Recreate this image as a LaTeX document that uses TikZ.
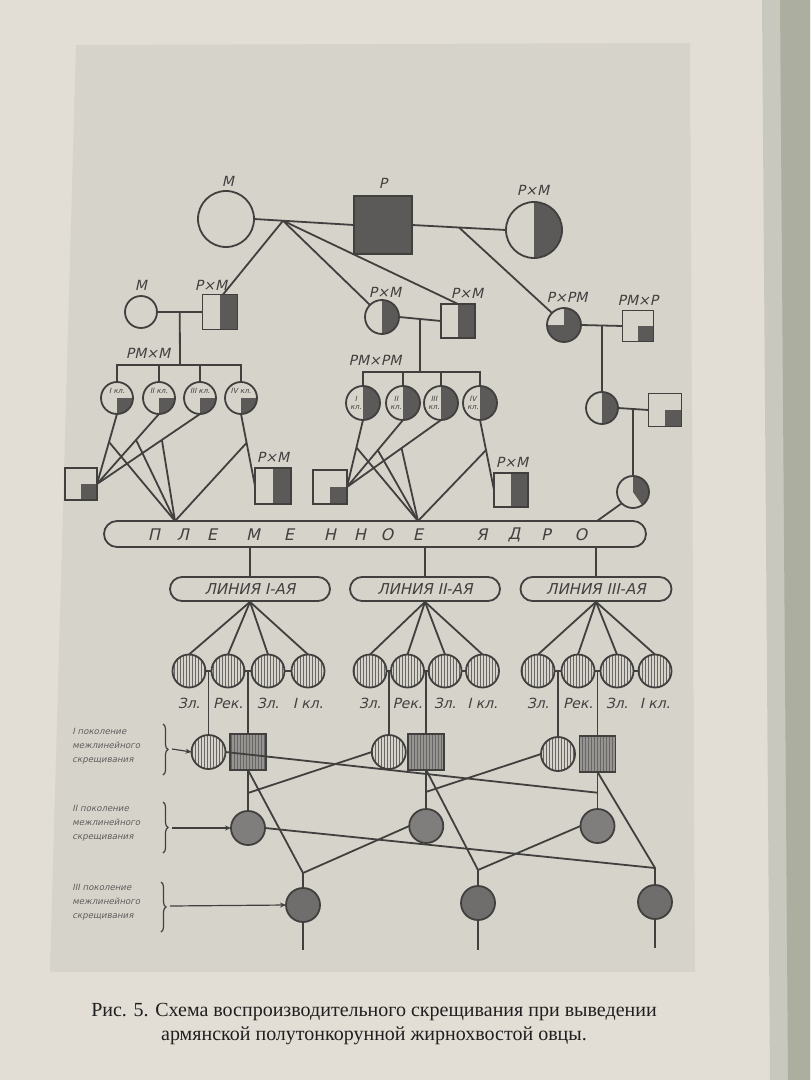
\documentclass[tikz,border=0pt]{standalone}
\usepackage{fontspec}
\setmainfont{Liberation Serif}
\newfontfamily\labf{DejaVu Sans}[FakeSlant=0.22]
\usetikzlibrary{patterns.meta,decorations.pathreplacing,arrows.meta,calc}
\definecolor{paper}{RGB}{226,222,213}
\definecolor{plate}{RGB}{214,211,203}
\definecolor{ink}{RGB}{66,64,62}
\definecolor{dark}{RGB}{92,90,89}
\definecolor{stripe}{RGB}{105,103,101}
\definecolor{gone}{RGB}{150,148,145}
\definecolor{gtwo}{RGB}{128,126,124}
\definecolor{gthree}{RGB}{112,110,108}
\definecolor{bindA}{RGB}{200,200,190}
\definecolor{bindB}{RGB}{172,175,160}
\tikzset{
  ln/.style={draw=ink,line width=0.9pt},
  circ/.style={circle,draw=ink,line width=0.9pt,fill=plate,minimum size=#1,inner sep=0pt,outer sep=0pt},
  sqr/.style={rectangle,draw=ink,line width=0.9pt,fill=plate,minimum size=#1,inner sep=0pt,outer sep=0pt},
  halfR/.style={path picture={\fill[dark] (path picture bounding box.north) rectangle (path picture bounding box.south east);}},
  quadBR/.style={path picture={\fill[dark] (path picture bounding box.center) rectangle (path picture bounding box.south east);}},
  threeQ/.style={path picture={\fill[dark] (path picture bounding box.south west) rectangle (path picture bounding box.north east);\fill[plate] (path picture bounding box.center) rectangle (path picture bounding box.north west);}},
  sectorfill/.style={path picture={\fill[dark] (path picture bounding box.center) -- ++(90:10pt) arc[start angle=90,end angle=-55,radius=10pt] -- cycle;}},
  stripes/.style={preaction={fill=#1},pattern={Lines[angle=90,distance=1.5pt,line width=0.5pt]},pattern color=stripe},
  lab/.style={font=\labf\fontsize{7}{8}\selectfont,text=ink,inner sep=0pt},
  nuc/.style={font=\labf\fontsize{8}{9}\selectfont,text=ink,inner sep=0pt},
  tinytext/.style={font=\labf\fontsize{3.6}{4}\selectfont,text=ink,inner sep=0pt,align=center},
  gentext/.style={font=\labf\fontsize{4.3}{7}\selectfont,text=ink!85,inner sep=0pt,align=left,anchor=west},
  linebox/.style={draw=ink,line width=0.9pt,rounded corners=6pt,minimum height=12pt,inner sep=0pt,font=\labf\fontsize{7.5}{8}\selectfont,text=ink},
  captext/.style={font=\fontsize{10}{12}\selectfont,text=black!88,inner sep=0pt},
  bracestyle/.style={draw=ink,line width=0.6pt,decorate,decoration={brace,amplitude=2.5pt}},
  arrstyle/.style={draw=ink,line width=0.6pt,-{Stealth[length=3pt,width=2.5pt]}}
}
\begin{document}
\begin{tikzpicture}[x=0.5pt,y=-0.5pt]
\useasboundingbox (0,0) rectangle (810,1080);
\fill[paper] (0,0) rectangle (810,1080);
\fill[plate] (76,45) -- (690,43) -- (695,972) -- (50,972) -- cycle;
\fill[bindA] (762,0) -- (810,0) -- (810,1080) -- (770,1080) -- cycle;
\fill[bindB] (780,0) -- (810,0) -- (810,1080) -- (788,1080) -- cycle;

% ---------- top row
\node[circ=28pt] (M0) at (226,219) {};
\node[sqr=29pt,fill=dark] (P0) at (383,225) {};
\node[circ=28pt,halfR] (PM0) at (534,230) {};
\node[lab] (lM0) at (228,181) {М};
\node[lab] (lP0) at (383,183) {Р};
\node[lab] (lPM0) at (533,190) {Р×М};
\draw[ln] (M0.east) -- coordinate[pos=0.29] (j1) (P0.west);
\draw[ln] (P0.east) -- coordinate[pos=0.5] (j2) (PM0.west);

% ---------- second row
\node[circ=16pt] (M1) at (141,312) {};
\node[sqr=17.5pt,halfR] (PM1) at (220,312) {};
\node[circ=17pt,halfR] (PM2) at (382,317) {};
\node[sqr=17pt,halfR] (PM3) at (458,321) {};
\node[circ=17pt,threeQ] (PPM) at (564,325) {};
\node[sqr=15.5pt,quadBR] (PMP) at (638,326) {};
\node[lab] (lM1) at (141,285) {М};
\node[lab] (lPM1) at (211,285) {Р×М};
\node[lab] (lPM2) at (385,292) {Р×М};
\node[lab] (lPM3) at (467,293) {Р×М};
\node[lab] (lPPM) at (567,297) {Р×РМ};
\node[lab] (lPMP) at (638,300) {РМ×Р};
\draw[ln] (M1.east) -- coordinate[pos=0.5] (j3) (PM1.west);
\draw[ln] (PM2.east) -- coordinate[pos=0.5] (j4) (PM3.west);
\draw[ln] (PPM.east) -- coordinate[pos=0.5] (j5) (PMP.west);
\draw[ln] (j1) -- ($(PM1.north)+(3,0)$);
\draw[ln] (j1) -- (PM2.north west);
\draw[ln] (j1) -- (PM3.north);
\draw[ln] (j2) -- (PPM.north west);

% ---------- left group
\node[lab] (lA) at (148,353) {РМ×М};
\node[circ=16pt,quadBR] (A1) at (117,398) {};
\node[circ=16pt,quadBR] (A2) at (159,398) {};
\node[circ=16pt,quadBR] (A3) at (200,398) {};
\node[circ=16pt,quadBR] (A4) at (241,398) {};
\node[tinytext] (tA1) at (117,391) {I кл.};
\node[tinytext] (tA2) at (159,391) {II кл.};
\node[tinytext] (tA3) at (200,391) {III кл.};
\node[tinytext] (tA4) at (241,391) {IV кл.};
\coordinate (b1) at (180,365);
\draw[ln] (j3) -- (b1);
\draw[ln] (A1.north) -- (A1.north |- b1) -- (A4.north |- b1) -- (A4.north);
\draw[ln] (A2.north) -- (A2.north |- b1);
\draw[ln] (A3.north) -- (A3.north |- b1);
\node[sqr=16pt,quadBR] (S1) at (81,484) {};
\node[sqr=18pt,halfR] (S2) at (273,486) {};
\node[lab] (lS2) at (273,457) {Р×М};

% ---------- middle group
\node[lab] (lB) at (375,360) {РМ×РМ};
\node[circ=17pt,halfR] (B1) at (363,403) {};
\node[circ=17pt,halfR] (B2) at (403,403) {};
\node[circ=17pt,halfR] (B3) at (441,403) {};
\node[circ=17pt,halfR] (B4) at (480,403) {};
\node[tinytext] (tB1) at (356,403) {I\\кл.};
\node[tinytext] (tB2) at (396,403) {II\\кл.};
\node[tinytext] (tB3) at (434,403) {III\\кл.};
\node[tinytext] (tB4) at (473,403) {IV\\кл.};
\coordinate (b2) at (420,372);
\draw[ln] (j4) -- (b2);
\draw[ln] (B1.north) -- (B1.north |- b2) -- (B4.north |- b2) -- (B4.north);
\draw[ln] (B2.north) -- (B2.north |- b2);
\draw[ln] (B3.north) -- (B3.north |- b2);
\node[sqr=17pt,quadBR] (S3) at (330,487) {};
\node[sqr=17pt,halfR] (S4) at (511,490) {};
\node[lab] (lS4) at (512,462) {Р×М};

% ---------- right group
\node[circ=16pt,halfR] (C1) at (602,408) {};
\node[sqr=16.5pt,quadBR] (S5) at (665,410) {};
\node[circ=16pt,sectorfill] (C2) at (633,492) {};
\draw[ln] (j5) -- (j5 |- C1.north);
\draw[ln] (C1.east) -- coordinate[pos=0.5] (j6) (S5.west);
\draw[ln] (j6) -- (j6 |- C2.north);

% ---------- nucleus
\node[draw=ink,line width=0.9pt,rounded corners=6.5pt,minimum width=271pt,minimum height=13pt,inner sep=0pt] (NB) at (375,534) {};
\foreach \l/\x in {П/154,Л/183,Е/212,М/253,Е/289,Н/330,Н/360,О/387,Е/418,Я/482,Д/514,Р/546,О/581}
  \node[nuc] (nl\x) at (\x,535) {\l};
\coordinate (n1) at (175,521);
\coordinate (n2) at (418,521);
\coordinate (n3) at (597,521);

% left group lines
\draw[ln] (A1.south) -- coordinate[pos=0.4] (k1) (S1.east);
\draw[ln] (A2.south) -- coordinate[pos=0.37] (k2) (S1.east);
\draw[ln] (A3.south) -- coordinate[pos=0.37] (k3) (S1.east);
\draw[ln] (A4.south) -- coordinate[pos=0.4] (k4) (S2.west);
\foreach \k in {k1,k2,k3,k4} \draw[ln] (\k) -- (n1);
% middle group lines
\draw[ln] (B1.south) -- coordinate[pos=0.41] (k5) (S3.east);
\draw[ln] (B2.south) -- coordinate[pos=0.45] (k6) (S3.east);
\draw[ln] (B3.south) -- coordinate[pos=0.42] (k7) (S3.east);
\draw[ln] (B4.south) -- coordinate[pos=0.43] (k8) (S4.west);
\foreach \k in {k5,k6,k7,k8} \draw[ln] (\k) -- (n2);
\draw[ln] (C2.south west) -- (n3);

% ---------- lines
\node[linebox,minimum width=80pt] (L1) at (250,589) {ЛИНИЯ I-АЯ};
\node[linebox,minimum width=75pt] (L2) at (425,589) {ЛИНИЯ II-АЯ};
\node[linebox,minimum width=75.5pt] (L3) at (596,589) {ЛИНИЯ III-АЯ};
\foreach \L in {L1,L2,L3} \draw[ln] (\L.north |- NB.south) -- (\L.north);

% circles under lines
\foreach \x [count=\k] in {189,228,268,308} \node[circ=16.5pt,stripes=plate] (D1\k) at (\x,671) {};
\foreach \x [count=\k] in {370,407.5,445,482.5} \node[circ=16.5pt,stripes=plate] (D2\k) at (\x,671) {};
\foreach \x [count=\k] in {538,578,617,655} \node[circ=16.5pt,stripes=plate] (D3\k) at (\x,671) {};
\foreach \g in {1,2,3} {
  \foreach \k in {1,...,4} \draw[ln] (L\g.south) -- (D\g\k.north);
  \draw[ln] (D\g1.east) -- coordinate[pos=0.5] (m\g1) (D\g2.west);
  \draw[ln] (D\g2.east) -- coordinate[pos=0.5] (m\g2) (D\g3.west);
  \draw[ln] (D\g3.east) -- (D\g4.west);
  \node[lab] (u\g1) at ($(D\g1.center)+(0,32)$) {Зл.};
  \node[lab] (u\g2) at ($(D\g2.center)+(0,32)$) {Рек.};
  \node[lab] (u\g3) at ($(D\g3.center)+(0,32)$) {Зл.};
  \node[lab] (u\g4) at ($(D\g4.center)+(0,32)$) {I кл.};
}

% ---------- generation I
\node[circ=17pt,stripes=plate] (G1c) at (208.5,752) {};
\node[sqr=18pt,stripes=gone] (G1s) at (248,752) {};
\node[circ=17pt,stripes=plate] (G2c) at (388.75,752) {};
\node[sqr=18pt,stripes=gone] (G2s) at (426.25,752) {};
\node[circ=17pt,stripes=plate] (G3c) at (558,754) {};
\node[sqr=18pt,stripes=gone] (G3s) at (597.5,754) {};
\draw[ln] (m11) -- (G1c.north);
\draw[ln] (m12) -- (G1s.north);
\draw[ln] (m21) -- (G2c.north);
\draw[ln] (m22) -- (G2s.north);
\draw[ln] (m31) -- (G3c.north);
\draw[ln] (m32) -- (G3s.north);

% ---------- generation II
\node[circ=17pt,fill=gtwo] (H1) at (248,828) {};
\node[circ=17pt,fill=gtwo] (H2) at (426.25,826) {};
\node[circ=17pt,fill=gtwo] (H3) at (597.5,826) {};
\draw[ln] (G1s.south) -- coordinate[pos=0.56] (q1) (H1.north);
\draw[ln] (G2s.south) -- coordinate[pos=0.56] (q2) (H2.north);
\draw[ln] (G3s.south) -- coordinate[pos=0.56] (q3) (H3.north);
\draw[ln] (G1c.east) -- (q3);
\draw[ln] (G2c.west) -- (q1);
\draw[ln] (G3c.west) -- (q2);

% ---------- generation III
\node[circ=17pt,fill=gthree] (T1) at (303,905) {};
\node[circ=17pt,fill=gthree] (T2) at (478,903) {};
\node[circ=17pt,fill=gthree] (T3) at (655,902) {};
\coordinate (r1) at (303,873);
\coordinate (r2) at (478,870);
\coordinate (r3) at (655,868);
\draw[ln] (G1s.south) -- (r1) -- (T1.north);
\draw[ln] (G2s.south) -- (r2) -- (T2.north);
\draw[ln] (G3s.south) -- (r3) -- (T3.north);
\draw[ln] (H2.west) -- (r1);
\draw[ln] (H3.west) -- (r2);
\draw[ln] (H1.east) -- (r3);
\coordinate (e1) at (303,950);
\coordinate (e2) at (478,950);
\coordinate (e3) at (655,948);
\draw[ln] (T1.south) -- (e1);
\draw[ln] (T2.south) -- (e2);
\draw[ln] (T3.south) -- (e3);

% ---------- generation labels
\node[gentext] (g1) at (72,746) {I поколение\\межлинейного\\скрещивания};
\node[gentext] (g2) at (72,823) {II поколение\\межлинейного\\скрещивания};
\node[gentext] (g3) at (72,902) {III поколение\\межлинейного\\скрещивания};
\coordinate (bt1) at (163,724); \coordinate (bb1) at (163,775);
\coordinate (bt2) at (163,802); \coordinate (bb2) at (163,853);
\coordinate (bt3) at (161,882); \coordinate (bb3) at (161,932);
\draw[bracestyle] (bt1) -- (bb1);
\draw[bracestyle] (bt2) -- (bb2);
\draw[bracestyle] (bt3) -- (bb3);
\coordinate (a1) at (172,749);
\coordinate (a2) at (172,828);
\coordinate (a3) at (170,906);
\draw[arrstyle] (a1) -- (G1c.west);
\draw[arrstyle] (a2) -- (H1.west);
\draw[arrstyle] (a3) -- (T1.west);

% ---------- caption
\node[captext] (cap1) at (374,1012) {Рис. 5. Схема воспроизводительного скрещивания при выведении};
\node[captext] (cap2) at (374,1036) {армянской полутонкорунной жирнохвостой овцы.};
\end{tikzpicture}
\end{document}
